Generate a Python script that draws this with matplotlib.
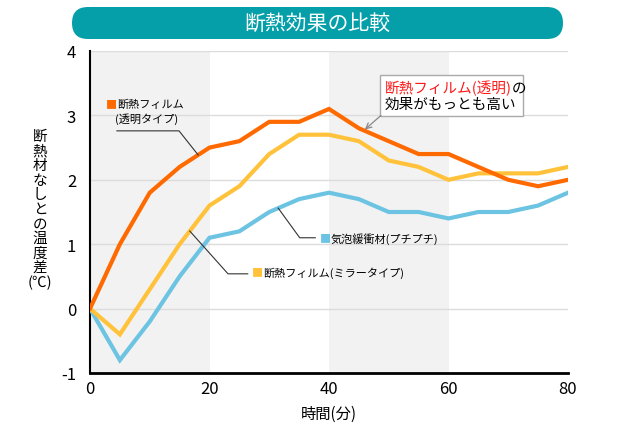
import matplotlib
matplotlib.use("Agg")
import matplotlib.pyplot as plt
from matplotlib.patches import FancyBboxPatch, Rectangle
import numpy as np

plt.rcParams['font.family'] = ['Noto Sans CJK JP', 'DejaVu Sans']
plt.rcParams['axes.unicode_minus'] = False

# data (time in minutes, temperature difference in degC)
TIME = [0, 5, 10, 15, 20, 25, 30, 35, 40, 45, 50, 55, 60, 65, 70, 75, 80]
CLEAR_FILM = [0, 1.0, 1.8, 2.2, 2.5, 2.6, 2.9, 2.9, 3.1, 2.8, 2.6, 2.4, 2.4, 2.2, 2.0, 1.9, 2.0]
MIRROR_FILM = [0, -0.4, 0.3, 1.0, 1.6, 1.9, 2.4, 2.7, 2.7, 2.6, 2.3, 2.2, 2.0, 2.1, 2.1, 2.1, 2.2]
BUBBLE_WRAP = [0, -0.8, -0.2, 0.5, 1.1, 1.2, 1.5, 1.7, 1.8, 1.7, 1.5, 1.5, 1.4, 1.5, 1.5, 1.6, 1.8]
BANDS = [(0, 20), (40, 60)]
X_TICKS = [0, 20, 40, 60, 80]
Y_TICKS = [-1, 0, 1, 2, 3, 4]

ORANGE = "#ff6a00"
YELLOW = "#ffc23a"
BLUE = "#6cc4e2"
TEAL = "#049fa9"

fig = plt.figure(figsize=(6.4, 4.27), dpi=100)
ax = fig.add_axes([90 / 640, 1 - 374 / 427, 478 / 640, 322 / 427])

for a, b in BANDS:
    ax.axvspan(a, b, color="#f2f2f2", zorder=0, lw=0)
for y in Y_TICKS[1:]:
    ax.axhline(y, color="#dcdcdc", lw=1, zorder=1)

ax.plot(TIME, BUBBLE_WRAP, color=BLUE, lw=3, zorder=3, solid_joinstyle="miter")
ax.plot(TIME, MIRROR_FILM, color=YELLOW, lw=3, zorder=3, solid_joinstyle="miter")
ax.plot(TIME, CLEAR_FILM, color=ORANGE, lw=3, zorder=4, solid_joinstyle="miter")

ax.set_xlim(0, 80)
ax.set_ylim(-1, 4)
ax.set_xticks(X_TICKS)
ax.set_yticks(Y_TICKS)
ax.tick_params(length=0, labelsize=12, pad=5)
ax.tick_params(axis="y", pad=10)
for s in ["top", "right"]:
    ax.spines[s].set_visible(False)
ax.spines["left"].set_linewidth(1.5)
ax.spines["bottom"].set_linewidth(2)
ax.set_xlabel("時間(分)", fontsize=11, labelpad=6)

ylab = "\n".join("断熱材なしとの温度差") + "\n(℃)"
fig.text(40 / 640, 1 - 210 / 427, ylab, fontsize=10.5, ha="center", va="center",
         linespacing=1.05)

# leader lines and labels
def leader(xs, series, knee, end):
    y0 = np.interp(xs, TIME, series)
    ax.plot([xs, knee[0], end], [y0, knee[1], knee[1]], color="#333333", lw=0.8, zorder=5)

def label(x, y, txt, color):
    ax.text(x + 0.1, y, "■", color=color, fontsize=8, va="center", ha="right")
    ax.text(x, y, txt, fontsize=8, va="center", ha="left")

leader(18.1, CLEAR_FILM, (14.9, 2.76), 4.5)
label(4.5, 3.18, "断熱フィルム", ORANGE)
ax.text(4.2, 2.96, "(透明タイプ)", fontsize=8, va="center", ha="left")

leader(31.5, BUBBLE_WRAP, (35.1, 1.10), 37.7)
label(40.3, 1.09, "気泡緩衝材(プチプチ)", BLUE)

leader(16.7, MIRROR_FILM, (23.1, 0.54), 26.4)
label(28.9, 0.56, "断熱フィルム(ミラータイプ)", YELLOW)

# callout box
ax.add_patch(Rectangle((48.5, 2.99), 24.0, 0.63, facecolor="white",
                       edgecolor="#aaaaaa", lw=1, zorder=6))
t1 = ax.text(49.3, 3.44, "断熱フィルム(透明)", color="#ff1a1a", fontsize=10.5,
             va="center", ha="left", zorder=7)
ax.annotate("の", xy=(1, 0.5), xycoords=t1, va="center", ha="left", fontsize=10.5, zorder=7)
ax.text(49.3, 3.18, "効果がもっとも高い", fontsize=10.5, va="center", ha="left", zorder=7)
ax.annotate("", xy=(46.0, np.interp(46.0, TIME, CLEAR_FILM) + 0.02), xytext=(48.7, 3.0),
            arrowprops=dict(arrowstyle="->", color="#888888", lw=0.9,
                            shrinkA=0, shrinkB=0), zorder=7)

# title banner
banner = FancyBboxPatch((72, 387), 491, 32, boxstyle="round,pad=0,rounding_size=16",
                        transform=None, facecolor=TEAL, edgecolor="none")
fig.add_artist(banner)
fig.text(317 / 640, 1 - 24 / 427, "断熱効果の比較", color="white", fontsize=15,
         ha="center", va="center")

fig.savefig("out.png", dpi=100)
